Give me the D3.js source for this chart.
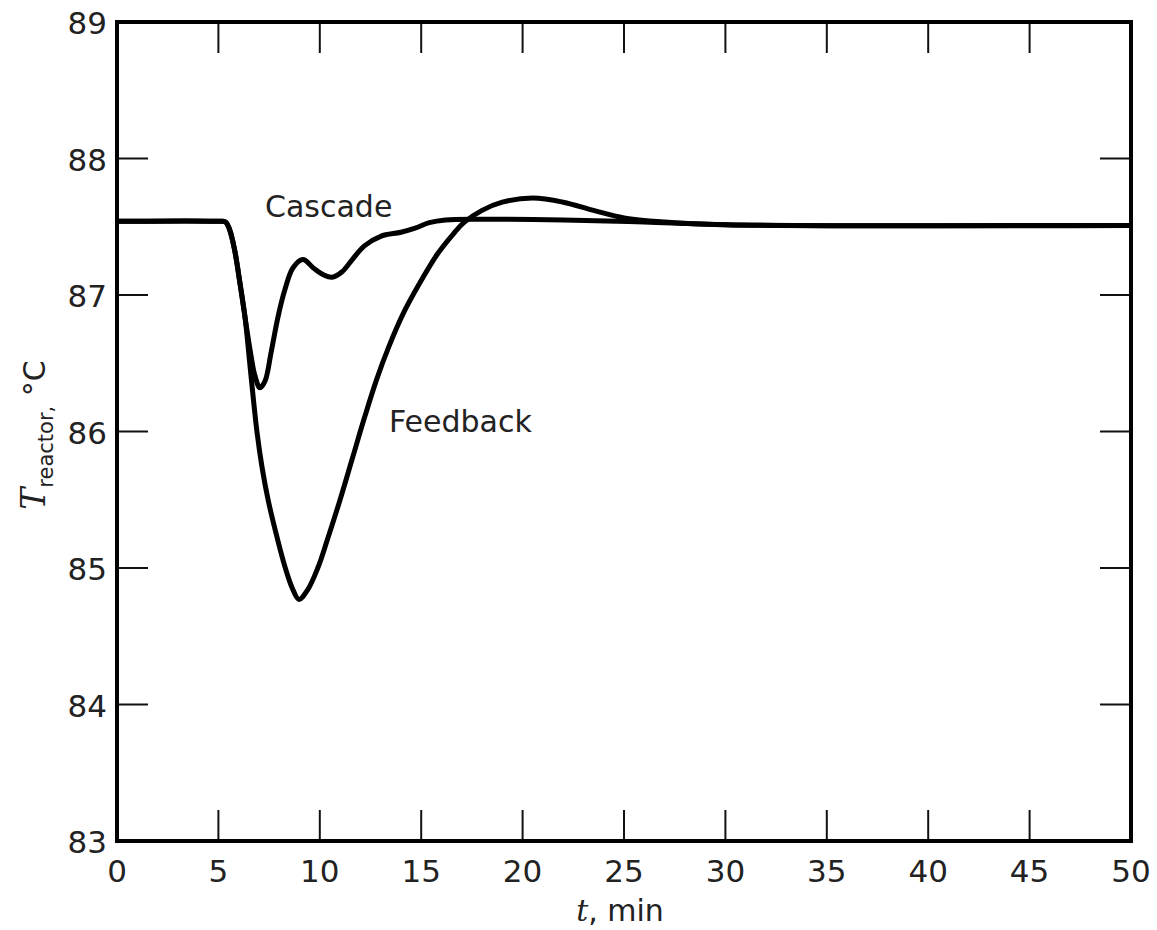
<!DOCTYPE html>
<html>
<head>
<meta charset="utf-8">
<script src="https://cdn.jsdelivr.net/npm/d3@7"></script>
<style>
  html, body { margin: 0; padding: 0; background: #fff; }
  svg { display: block; }
</style>
</head>
<body>
<svg id="chart" width="1157" height="930"></svg>
<script>
// ---- data ----
const xTicks = [0, 5, 10, 15, 20, 25, 30, 35, 40, 45, 50];
const yTicks = [83, 84, 85, 86, 87, 88, 89];

const cascadeT = [0, 5.0, 5.35, 5.55, 5.8, 6.06, 6.31, 6.56, 6.8, 7.05, 7.3, 7.6, 7.94, 8.28, 8.68, 9.17, 9.67, 10.16, 10.6, 11.1, 11.6, 12.2, 13.0, 14.0, 14.7, 15.4, 16.2, 18, 22, 26, 30, 50];
const cascadeV = [87.54, 87.54, 87.535, 87.48, 87.33, 87.09, 86.84, 86.6, 86.41, 86.32, 86.37, 86.58, 86.84, 87.04, 87.2, 87.26, 87.2, 87.15, 87.13, 87.17, 87.26, 87.36, 87.43, 87.46, 87.49, 87.53, 87.55, 87.555, 87.55, 87.535, 87.515, 87.51];

const feedbackT = [0, 5.0, 5.35, 5.55, 5.8, 6.06, 6.31, 6.6, 6.9, 7.15, 7.45, 7.9, 8.3, 8.65, 8.97, 9.4, 9.9, 10.4, 11.0, 11.6, 12.2, 12.8, 13.4, 14.1, 14.9, 15.8, 16.6, 17.1, 18, 19, 20.5, 22, 23.5, 25, 27, 30, 50];
const feedbackV = [87.54, 87.54, 87.535, 87.48, 87.33, 87.09, 86.84, 86.42, 86.0, 85.74, 85.5, 85.22, 85.0, 84.85, 84.77, 84.84, 85.0, 85.22, 85.5, 85.8, 86.1, 86.38, 86.62, 86.86, 87.08, 87.3, 87.45, 87.53, 87.62, 87.68, 87.71, 87.68, 87.62, 87.565, 87.535, 87.515, 87.51];

const seriesLabels = ["Cascade", "Feedback"];

// ---- layout ----
const svg = d3.select("#chart");
const M = { left: 117, top: 22, right: 26, bottom: 89 };
const W = 1157 - M.left - M.right;   // 1014
const H = 930 - M.top - M.bottom;    // 819

const x = d3.scaleLinear().domain([0, 50]).range([M.left, M.left + W]);
const y = d3.scaleLinear().domain([83, 89]).range([M.top + H, M.top]);

const tickLen = 31;
const numFont = "'DejaVu Sans', sans-serif";

// inward ticks
const g = svg.append("g");
xTicks.filter(d => d > 0 && d < 50).forEach(d => {
  g.append("line").attr("x1", x(d)).attr("x2", x(d))
    .attr("y1", y(83)).attr("y2", y(83) - tickLen)
    .attr("stroke", "#111").attr("stroke-width", 2);
  g.append("line").attr("x1", x(d)).attr("x2", x(d))
    .attr("y1", y(89)).attr("y2", y(89) + tickLen)
    .attr("stroke", "#111").attr("stroke-width", 2);
});
yTicks.filter(d => d > 83 && d < 89).forEach(d => {
  g.append("line").attr("x1", x(0)).attr("x2", x(0) + tickLen)
    .attr("y1", y(d)).attr("y2", y(d))
    .attr("stroke", "#111").attr("stroke-width", 2);
  g.append("line").attr("x1", x(50)).attr("x2", x(50) - tickLen)
    .attr("y1", y(d)).attr("y2", y(d))
    .attr("stroke", "#111").attr("stroke-width", 2);
});

// tick labels
svg.append("g").selectAll("text").data(xTicks).join("text")
  .attr("x", d => x(d)).attr("y", y(83) + 41)
  .attr("text-anchor", "middle")
  .attr("font-family", numFont).attr("font-size", 31).attr("fill", "#222")
  .text(d => d);

svg.append("g").selectAll("text").data(yTicks).join("text")
  .attr("x", x(0) - 10).attr("y", d => y(d) + 12)
  .attr("text-anchor", "end")
  .attr("font-family", numFont).attr("font-size", 31).attr("fill", "#222")
  .text(d => d);

// curves
const line = d3.line().x(d => x(d[0])).y(d => y(d[1])).curve(d3.curveCatmullRom.alpha(0.5));
const cascade = cascadeT.map((t, i) => [t, cascadeV[i]]);
const feedback = feedbackT.map((t, i) => [t, feedbackV[i]]);

svg.append("path").datum(cascade).attr("d", line)
  .attr("fill", "none").attr("stroke", "#000").attr("stroke-width", 5)
  .attr("stroke-linejoin", "round");
svg.append("path").datum(feedback).attr("d", line)
  .attr("fill", "none").attr("stroke", "#000").attr("stroke-width", 5)
  .attr("stroke-linejoin", "round");

// frame
svg.append("rect").attr("x", x(0)).attr("y", y(89))
  .attr("width", W).attr("height", H)
  .attr("fill", "none").attr("stroke", "#000").attr("stroke-width", 4);

// series labels
svg.append("text").attr("x", 265).attr("y", 217)
  .attr("font-family", numFont).attr("font-size", 30).attr("fill", "#222")
  .text(seriesLabels[0]);
svg.append("text").attr("x", 389).attr("y", 432)
  .attr("font-family", numFont).attr("font-size", 30).attr("fill", "#222")
  .text(seriesLabels[1]);

// x axis title
const xt = svg.append("text").attr("x", 620).attr("y", 921)
  .attr("text-anchor", "middle").attr("fill", "#222")
  .attr("font-family", numFont).attr("font-size", 30);
xt.append("tspan").attr("font-family", "'DejaVu Serif', serif").attr("font-style", "italic").text("t");
xt.append("tspan").text(", min");

// y axis title
const yt = svg.append("text")
  .attr("transform", "translate(45,435) rotate(-90)")
  .attr("text-anchor", "middle").attr("fill", "#222")
  .attr("font-family", numFont).attr("font-size", 30);
yt.append("tspan").attr("font-family", "'DejaVu Serif', serif").attr("font-style", "italic").attr("font-size", 33).text("T");
yt.append("tspan").attr("font-size", 21).attr("dy", 8).text("reactor,");
yt.append("tspan").attr("dy", -8).text(" °C");
</script>
</body>
</html>
